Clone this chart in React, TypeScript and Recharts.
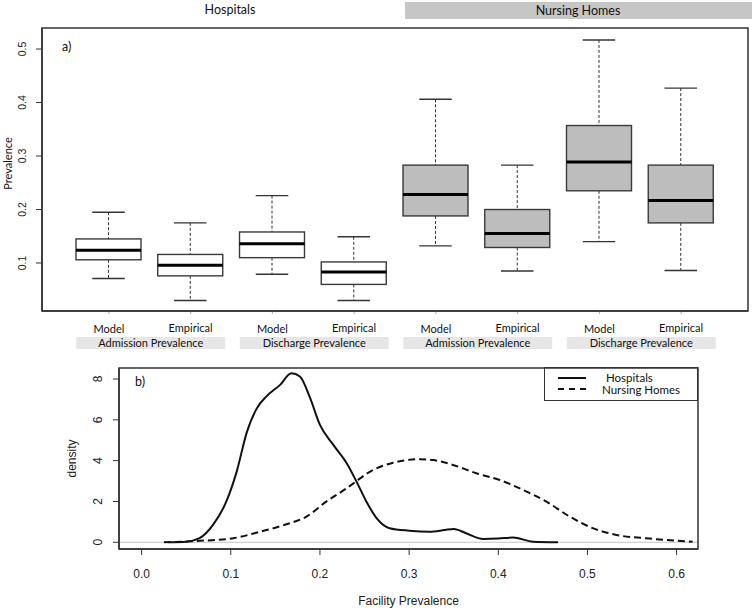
import React from 'react';
import {
  Bar,
  ComposedChart,
  Legend,
  Line,
  LineChart,
  ReferenceLine,
  XAxis,
  YAxis,
} from 'recharts';

const FONT_R = '"Liberation Sans", Arial, sans-serif';
const FONT_C = 'Lato, "Open Sans", sans-serif';
const INK = '#333333';

// panel a: boxplots
const boxLabels = ['Model', 'Empirical', 'Model', 'Empirical', 'Model', 'Empirical', 'Model', 'Empirical'];
const boxGroups = ['Admission Prevalence', 'Discharge Prevalence', 'Admission Prevalence', 'Discharge Prevalence'];
const boxFacility = ['Hospitals', 'Hospitals', 'Hospitals', 'Hospitals', 'Nursing Homes', 'Nursing Homes', 'Nursing Homes', 'Nursing Homes'];
const whiskerLow = [0.071, 0.03, 0.079, 0.03, 0.132, 0.085, 0.14, 0.086];
const lowerQuartile = [0.106, 0.076, 0.11, 0.06, 0.188, 0.129, 0.235, 0.175];
const medians = [0.124, 0.096, 0.136, 0.083, 0.228, 0.155, 0.289, 0.217];
const upperQuartile = [0.145, 0.116, 0.158, 0.102, 0.283, 0.2, 0.357, 0.283];
const whiskerHigh = [0.195, 0.175, 0.226, 0.149, 0.406, 0.283, 0.517, 0.427];
const prevalenceTicks = [0.1, 0.2, 0.3, 0.4, 0.5];

// panel b: density curves
const hospitalX = [0.03, 0.05, 0.065, 0.08, 0.095, 0.1065, 0.118, 0.129, 0.14, 0.155, 0.168, 0.1775, 0.189, 0.2, 0.215, 0.23, 0.241, 0.252, 0.2635, 0.278, 0.3, 0.323, 0.34, 0.35, 0.364, 0.383, 0.4, 0.4166, 0.439, 0.467];
const hospitalY = [0, 0.03, 0.2, 0.85, 2.0, 3.45, 5.4, 6.55, 7.15, 7.7, 8.28, 8.12, 7.06, 5.75, 4.77, 3.87, 2.97, 2.0, 1.18, 0.69, 0.57, 0.52, 0.6, 0.65, 0.44, 0.16, 0.18, 0.23, 0.03, 0];
const nursingX = [0.025, 0.065, 0.103, 0.133, 0.1625, 0.185, 0.207, 0.23, 0.241, 0.252, 0.282, 0.312, 0.327, 0.349, 0.3755, 0.4017, 0.428, 0.454, 0.48, 0.506, 0.5325, 0.57, 0.618];
const nursingY = [0, 0.07, 0.2, 0.52, 0.88, 1.26, 1.99, 2.65, 3.0, 3.35, 3.9, 4.07, 4.03, 3.79, 3.38, 3.05, 2.56, 1.99, 1.26, 0.69, 0.36, 0.18, 0.03];
const densityTicks = [0, 2, 4, 6, 8];
const facilityTicks = [0, 0.1, 0.2, 0.3, 0.4, 0.5, 0.6];

const boxData = boxLabels.map((label, i) => ({
  key: String(i),
  label,
  group: boxGroups[Math.floor(i / 2)],
  facility: boxFacility[i],
  lo: whiskerLow[i],
  q1: lowerQuartile[i],
  med: medians[i],
  q3: upperQuartile[i],
  hi: whiskerHigh[i],
  span: [whiskerLow[i], whiskerHigh[i]],
}));

const hospitalDensity = hospitalX.map((x, i) => ({ x, y: hospitalY[i] }));
const nursingDensity = nursingX.map((x, i) => ({ x, y: nursingY[i] }));

const STEP = 81.75;

function BoxShape(props: any) {
  const { x, y, width, height } = props;
  const row = props.payload ?? props;
  const { lo, hi, q1, med, q3, facility } = row;
  const toY = (v: number) => y + ((hi - v) / (hi - lo)) * height;
  const cx = x + width / 2;
  const cap = width / 4;
  const fill = facility === 'Nursing Homes' ? '#bdbdbd' : '#ffffff';
  return (
    <g>
      <line x1={cx} x2={cx} y1={toY(hi)} y2={toY(q3)} stroke={INK} strokeWidth={1} strokeDasharray="3 2" />
      <line x1={cx} x2={cx} y1={toY(q1)} y2={toY(lo)} stroke={INK} strokeWidth={1} strokeDasharray="3 2" />
      <line x1={cx - cap} x2={cx + cap} y1={toY(hi)} y2={toY(hi)} stroke={INK} strokeWidth={1.4} />
      <line x1={cx - cap} x2={cx + cap} y1={toY(lo)} y2={toY(lo)} stroke={INK} strokeWidth={1.4} />
      <rect x={x} y={toY(q3)} width={width} height={toY(q1) - toY(q3)} fill={fill} stroke="#3a3a3a" strokeWidth={1.4} />
      <line x1={x} x2={x + width} y1={toY(med)} y2={toY(med)} stroke="#000" strokeWidth={3} />
    </g>
  );
}

function CategoryTick(props: any) {
  const { x, y, payload } = props;
  const i = Number(payload.value);
  const row = boxData[i];
  const isModel = i % 2 === 0;
  const mid = x + STEP / 2 + 1;
  return (
    <g>
      <text x={x} y={y + (isModel ? 19 : 18)} textAnchor="middle" fontSize={11} fontFamily={FONT_C} fill="#111">
        {row.label}
      </text>
      {isModel && (
        <g>
          <rect x={mid - 74.5} y={y + 23} width={149} height={12} fill="#e6e6e6" />
          <text x={mid} y={y + 33} textAnchor="middle" fontSize={11} fontFamily={FONT_C} fill="#111">
            {row.group}
          </text>
        </g>
      )}
    </g>
  );
}

function RotatedTick(props: any) {
  const { x, y, payload, fontSize, digits } = props;
  const v = Number(payload.value);
  return (
    <text
      x={x}
      y={y}
      transform={`rotate(-90, ${x}, ${y})`}
      textAnchor="middle"
      fontSize={fontSize}
      fontFamily={FONT_R}
      fill="#222"
    >
      {digits ? v.toFixed(digits) : String(v)}
    </text>
  );
}

function DensityLegend() {
  return (
    <div
      style={{
        width: 152,
        height: 32,
        border: `1.5px solid ${INK}`,
        background: '#fff',
        position: 'relative',
      }}
    >
      <svg width={152} height={32} style={{ position: 'absolute', left: 0, top: 0 }}>
        <line x1={13} x2={41} y1={10} y2={10} stroke="#111" strokeWidth={2} />
        <line x1={13} x2={41} y1={21} y2={21} stroke="#111" strokeWidth={2} strokeDasharray="6 5" />
        <text x={61} y={14} fontSize={11.5} fontFamily={FONT_C} fill="#111">Hospitals</text>
        <text x={57} y={26} fontSize={11.5} fontFamily={FONT_C} fill="#111">Nursing Homes</text>
      </svg>
    </div>
  );
}

export default function App() {
  return (
    <div style={{ position: 'absolute', left: 0, top: 0, width: 754, height: 610, background: '#fff' }}>
      <div style={{ position: 'absolute', left: 0, top: 0 }}>
        <ComposedChart width={754} height={370} data={boxData} margin={{ top: 28, right: 6, bottom: 0, left: 0 }}>
          <XAxis
            dataKey="key"
            height={59}
            padding={{ left: 26, right: 26 }}
            axisLine={{ stroke: INK, strokeWidth: 1.5 }}
            tickLine={{ stroke: '#aaa' }}
            tickSize={3}
            tickMargin={0}
            interval={0}
            tick={<CategoryTick />}
          />
          <YAxis
            width={42}
            domain={[0.0103, 0.5393]}
            ticks={prevalenceTicks}
            allowDataOverflow
            axisLine={{ stroke: INK, strokeWidth: 1.5 }}
            tickLine={{ stroke: INK }}
            tickSize={6}
            tickMargin={10}
            tick={<RotatedTick fontSize={10.5} digits={1} />}
            label={(p: any) => {
              const vb = p.viewBox ?? { x: 0, y: 28, width: 42, height: 283 };
              const cx = vb.x + 12;
              const cy = vb.y + vb.height / 2 - 6;
              return (
                <text transform={`translate(${cx}, ${cy}) rotate(-90)`} textAnchor="middle" fontSize={11} fontFamily={FONT_C} fill="#111">
                  Prevalence
                </text>
              );
            }}
          />
          <Bar dataKey="span" barSize={65} shape={<BoxShape />} isAnimationActive={false} />
        </ComposedChart>
      </div>

      <div style={{ position: 'absolute', left: 0, top: 360 }}>
        <LineChart width={754} height={250} margin={{ top: 8, right: 56, bottom: 0, left: 0 }}>
          <XAxis
            dataKey="x"
            type="number"
            domain={[-0.0254, 0.624]}
            ticks={facilityTicks}
            allowDataOverflow
            height={61}
            axisLine={{ stroke: INK, strokeWidth: 1.5 }}
            tickLine={{ stroke: INK }}
            tickSize={6}
            tickMargin={14}
            tickFormatter={(v: number) => v.toFixed(1)}
            tick={{ fontSize: 12, fontFamily: FONT_R, fill: '#222' }}
            label={{ value: 'Facility Prevalence', position: 'insideBottom', offset: 5, style: { fontSize: 12, fontFamily: FONT_R, fill: '#222' } }}
          />
          <YAxis
            dataKey="y"
            domain={[-0.33, 8.54]}
            ticks={densityTicks}
            allowDataOverflow
            width={119}
            axisLine={{ stroke: INK, strokeWidth: 1.5 }}
            tickLine={{ stroke: INK }}
            tickSize={6}
            tickMargin={11}
            tick={<RotatedTick fontSize={12} digits={0} />}
            label={(p: any) => {
              const vb = p.viewBox ?? { x: 0, y: 8, width: 119, height: 181 };
              const cx = vb.x + 76;
              const cy = vb.y + vb.height / 2;
              return (
                <text transform={`translate(${cx}, ${cy}) rotate(-90)`} textAnchor="middle" fontSize={12} fontFamily={FONT_R} fill="#222">
                  density
                </text>
              );
            }}
          />
          <ReferenceLine y={0} stroke="#c4c4c4" strokeWidth={1.2} />
          <Legend
            layout="vertical"
            align="center"
            verticalAlign="middle"
            wrapperStyle={{ left: 544, top: 7, width: 155 }}
            content={() => <DensityLegend />}
          />
          <Line
            data={hospitalDensity}
            dataKey="y"
            name="Hospitals"
            type="monotone"
            stroke="#111"
            strokeWidth={2}
            dot={false}
            isAnimationActive={false}
          />
          <Line
            data={nursingDensity}
            dataKey="y"
            name="Nursing Homes"
            type="monotone"
            stroke="#111"
            strokeWidth={2}
            strokeDasharray="7 4"
            dot={false}
            isAnimationActive={false}
          />
        </LineChart>
      </div>

      <svg width={754} height={610} style={{ position: 'absolute', left: 0, top: 0, pointerEvents: 'none' }}>
        <rect x={42} y={28} width={706} height={283} fill="none" stroke={INK} strokeWidth={1.5} />
        <rect x={119} y={368} width={579} height={181} fill="none" stroke={INK} strokeWidth={1.5} />
        <text x={230} y={14} textAnchor="middle" fontSize={12.5} fontFamily={FONT_C} fill="#111">Hospitals</text>
        <rect x={405} y={2} width={347} height={17} fill="#c6c6c6" />
        <text x={578} y={15} textAnchor="middle" fontSize={12.5} fontFamily={FONT_C} fill="#111">Nursing Homes</text>
        <text x={62} y={51} fontSize={12.5} fontFamily={FONT_C} fill="#111">a)</text>
        <text x={135} y={386} fontSize={12.5} fontFamily={FONT_C} fill="#111">b)</text>
      </svg>
    </div>
  );
}
